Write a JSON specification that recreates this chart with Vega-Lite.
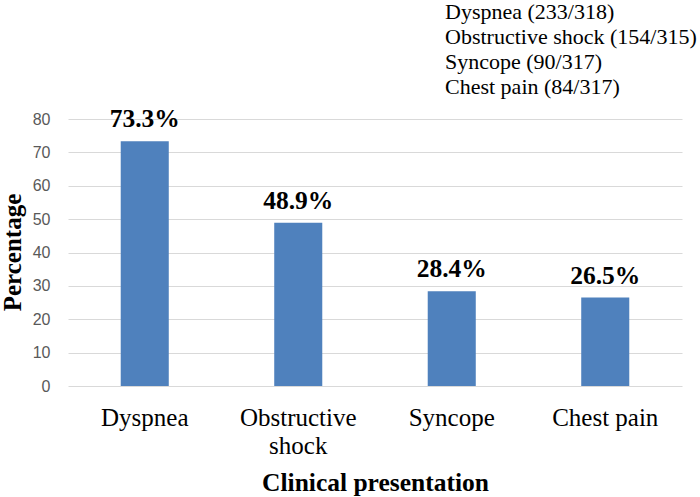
{
  "$schema": "https://vega.github.io/schema/vega-lite/v6.json",
  "width": 614,
  "height": 267,
  "autosize": "none",
  "padding": {"left": 68, "top": 119, "right": 18, "bottom": 111},
  "background": "white",
  "data": {
    "values": [
      {"presentation": "Dyspnea", "pct": 73.3, "label": "73.3%", "note": "Dyspnea (233/318)"},
      {"presentation": "Obstructive shock", "pct": 48.9, "label": "48.9%", "note": "Obstructive shock (154/315)"},
      {"presentation": "Syncope", "pct": 28.4, "label": "28.4%", "note": "Syncope (90/317)"},
      {"presentation": "Chest pain", "pct": 26.5, "label": "26.5%", "note": "Chest pain (84/317)"}
    ]
  },
  "encoding": {
    "x": {
      "field": "presentation",
      "type": "nominal",
      "sort": null,
      "title": "Clinical presentation",
      "scale": {"paddingInner": 0.687, "paddingOuter": 0.3435},
      "axis": {
        "labelAngle": 0,
        "labelFont": "Liberation Serif",
        "labelFontSize": 25,
        "labelColor": "black",
        "labelPadding": 19,
        "labelLineHeight": 28,
        "labelExpr": "datum.label == 'Obstructive shock' ? ['Obstructive', 'shock'] : datum.label",
        "domain": false,
        "ticks": false,
        "titleFont": "Liberation Serif",
        "titleFontSize": 25.5,
        "titleFontWeight": "bold",
        "titleColor": "black",
        "titleBaseline": "alphabetic",
        "titleY": 104
      }
    },
    "y": {
      "field": "pct",
      "type": "quantitative",
      "title": "Percentage",
      "scale": {"domain": [0, 80], "nice": false},
      "axis": {
        "values": [0, 10, 20, 30, 40, 50, 60, 70, 80],
        "labelFont": "Liberation Sans",
        "labelFontSize": 16,
        "labelColor": "#595959",
        "labelPadding": 18,
        "domain": false,
        "ticks": false,
        "grid": true,
        "gridColor": "#d9d9d9",
        "gridWidth": 1,
        "titleFont": "Liberation Serif",
        "titleFontSize": 25,
        "titleFontWeight": "bold",
        "titleColor": "black",
        "titleAngle": -90,
        "titleAlign": "center",
        "titleBaseline": "alphabetic",
        "titleX": -48,
        "titleY": 133
      }
    }
  },
  "layer": [
    {
      "mark": {"type": "bar"},
      "encoding": {
        "color": {
          "field": "note",
          "type": "nominal",
          "sort": null,
          "scale": {"range": ["#4f81bd", "#4f81bd", "#4f81bd", "#4f81bd"]},
          "legend": {
            "title": null,
            "orient": "none",
            "legendX": 355,
            "legendY": -118,
            "symbolSize": 0,
            "symbolOpacity": 0,
            "symbolStrokeWidth": 0,
            "labelFont": "Liberation Serif",
            "labelFontSize": 22,
            "labelColor": "black",
            "labelOffset": 0,
            "labelLimit": 400,
            "rowPadding": 3
          }
        }
      }
    },
    {
      "mark": {
        "type": "text",
        "baseline": "alphabetic",
        "dy": -14,
        "font": "Liberation Serif",
        "fontSize": 25.5,
        "fontWeight": "bold",
        "color": "black"
      },
      "encoding": {
        "text": {"field": "label"}
      }
    }
  ],
  "config": {
    "view": {"stroke": null}
  }
}
